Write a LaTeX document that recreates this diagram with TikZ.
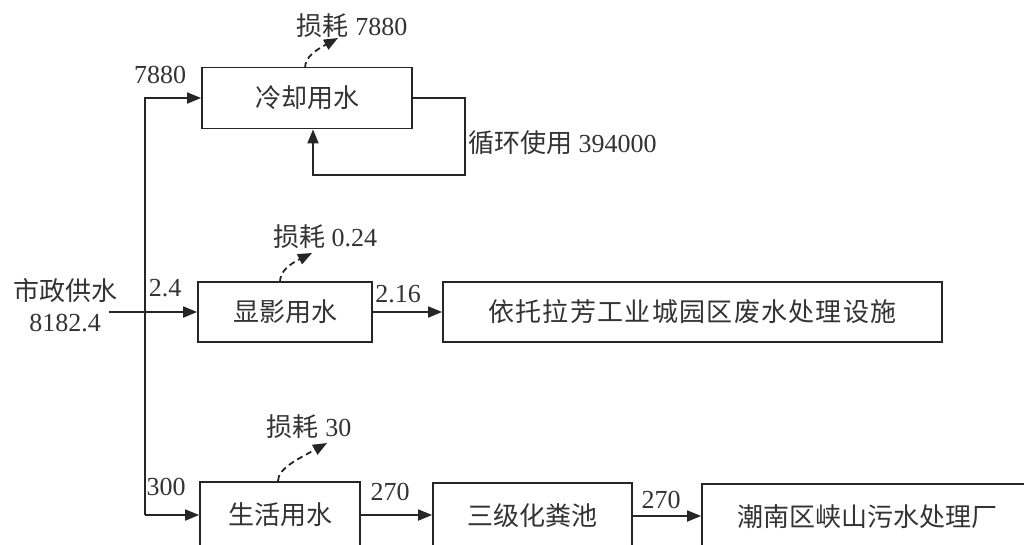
\documentclass[tikz,border=0pt]{standalone}
\usepackage{fontspec}
\setmainfont{Liberation Serif}
\newfontfamily\cjk{Noto Sans CJK SC}
\usetikzlibrary{arrows.meta}
\begin{document}
\begin{tikzpicture}[x=1pt,y=-1pt,
  box/.style={draw=black!85, line width=1.8pt, minimum height=60pt, inner sep=0pt, text=black!80, font=\fontsize{26}{30}\selectfont\cjk},
  lbl/.style={inner sep=0pt, text=black!80, font=\fontsize{26}{31}\selectfont},
  arr/.style={draw=black!85, line width=1.8pt, -{Triangle[length=14pt,width=11pt]}},
  loss/.style={draw=black!85, line width=1.8pt, dash pattern=on 6pt off 4pt, -{Triangle[length=14pt,width=11pt]}}]
\fill[white] (0,0) rectangle (1024,544);
\useasboundingbox (0,0) rectangle (1024,544);
\clip (0,0) rectangle (1024,544);
% boxes
\node[box, minimum width=210pt, minimum height=61pt] (cool) at (307,98) {冷却用水};
\node[box, minimum width=174pt] (dev) at (285,312) {显影用水};
\node[box, minimum width=499pt] (dep) at (692.5,312) {\addfontfeature{LetterSpace=5}依托拉芳工业城园区废水处理设施};
\node[box, minimum width=160pt, minimum height=66pt] (life) at (280,515) {生活用水};
\node[box, minimum width=199pt, minimum height=66pt] (septic) at (532.5,516) {三级化粪池};
\node[box, minimum width=330pt, minimum height=66pt] (plant) at (867,517) {潮南区峡山污水处理厂};
% labels
\node[lbl, align=center] (src) at (65,305) {{\cjk 市政供水}\\8182.4};
\node[lbl] (q7880) at (160,75) {7880};
\node[lbl] (lossA) at (352,26) {{\cjk 损耗} 7880};
\node[lbl, anchor=west] (recy) at (468,143) {{\cjk 循环使用} 394000};
\node[lbl] (q24) at (165,288) {2.4};
\node[lbl] (lossB) at (325,237) {{\cjk 损耗} 0.24};
\node[lbl] (q216) at (398,294) {2.16};
\node[lbl] (q300) at (166,487) {300};
\node[lbl] (lossC) at (309,427) {{\cjk 损耗} 30};
\node[lbl] (q270a) at (390,492) {270};
\node[lbl] (q270b) at (661,500) {270};
% coordinates
\coordinate (vtop) at (145,98);
\coordinate (vbot) at (145,515);
\coordinate (srcout) at ([xshift=-8pt]src.east);
\coordinate (r1) at (465,98);
\coordinate (r2) at (465,175);
\coordinate (r3) at (313,175);
\coordinate (sA) at (305,68);
\coordinate (aA1) at (305,57);
\coordinate (aA2) at (316,50);
\coordinate (tA) at (338,38);
\coordinate (sB) at (280,282);
\coordinate (aB1) at (280,271);
\coordinate (aB2) at (290,264);
\coordinate (tB) at (312,253);
\coordinate (sC) at (278,481);
\coordinate (aC1) at (278,468);
\coordinate (aC2) at (300,458);
\coordinate (tC) at (327,443);
% connectors
\draw[arr] (vbot) -- (vtop) -- (cool.west);
\draw[arr] (vbot) -- (life.west);
\draw[arr] (srcout |- dev.west) -- (dev.west);
\draw[arr] (dev.east) -- (dep.west);
\draw[arr] (life.east) -- (septic.west |- life.east);
\draw[arr] (septic.east) -- (plant.west |- septic.east);
\draw[arr] (cool.east) -- (r1) -- (r2) -- (r3) -- (r3 |- cool.south);
\draw[loss] (sA) .. controls (aA1) and (aA2) .. (tA);
\draw[loss] (sB) .. controls (aB1) and (aB2) .. (tB);
\draw[loss] (sC) .. controls (aC1) and (aC2) .. (tC);
\end{tikzpicture}
\end{document}
